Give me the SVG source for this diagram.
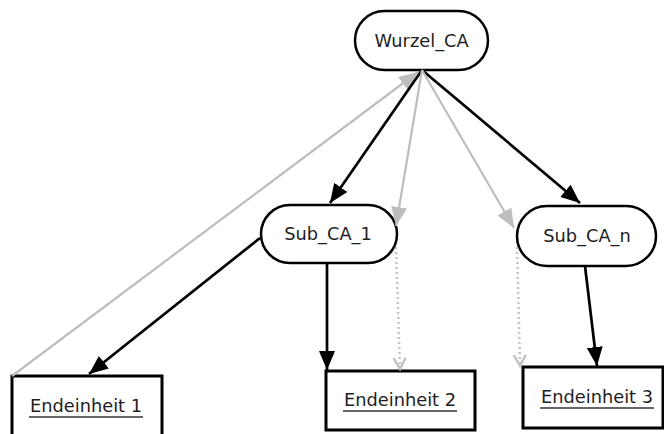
<svg xmlns="http://www.w3.org/2000/svg" width="664" height="434" viewBox="0 0 664 434">
  <style>
    .pill { fill: #ffffff; stroke: #000000; stroke-width: 2.5; }
    .box { fill: #ffffff; stroke: #000000; stroke-width: 3; }
    .lbl { font-family: "DejaVu Sans", "Liberation Sans", sans-serif; font-size: 17.8px; fill: #1e1e1e; text-anchor: middle; }
    .ul { stroke: #666666; stroke-width: 2; }
    .solid { fill: none; stroke: #000000; stroke-width: 2.7; }
    .grey { fill: none; stroke: #bdbdbd; stroke-width: 2.2; }
    .dots { fill: none; stroke: #c4c4c4; stroke-width: 2.5; stroke-dasharray: 2 3; }
  </style>
  <defs>
    <marker id="headBlack" markerUnits="userSpaceOnUse" markerWidth="22" markerHeight="18" refX="19" refY="8" orient="auto">
      <path d="M0,0 L19,8 L0,16 Z" fill="#000000"/>
    </marker>
    <marker id="headGrey" markerUnits="userSpaceOnUse" markerWidth="22" markerHeight="18" refX="19" refY="8" orient="auto">
      <path d="M0,0 L19,8 L0,16 Z" fill="#bdbdbd"/>
    </marker>
    <marker id="headOpen" markerUnits="userSpaceOnUse" markerWidth="16" markerHeight="16" refX="12" refY="7" orient="auto">
      <path d="M1,1 L12,7 L1,13" fill="none" stroke="#c4c4c4" stroke-width="2.5"/>
    </marker>
  </defs>

  <!-- nodes -->
  <g id="wurzel_ca">
    <rect class="pill" x="355" y="11" width="133" height="59" rx="29.5"/>
    <text class="lbl" x="421.5" y="47">Wurzel_CA</text>
  </g>
  <g id="sub_ca_1">
    <rect class="pill" x="261" y="205" width="136" height="58" rx="29"/>
    <text class="lbl" x="328" y="240">Sub_CA_1</text>
  </g>
  <g id="sub_ca_n">
    <rect class="pill" x="517" y="206" width="139" height="60" rx="30"/>
    <text class="lbl" x="587" y="242">Sub_CA_n</text>
  </g>
  <g id="endeinheit_1">
    <rect class="box" x="12" y="376" width="150" height="70"/>
    <text class="lbl" x="86" y="412">Endeinheit 1</text>
    <line class="ul" x1="29" y1="417" x2="143" y2="417"/>
  </g>
  <g id="endeinheit_2">
    <rect class="box" x="326" y="371" width="149" height="59"/>
    <text class="lbl" x="400" y="406">Endeinheit 2</text>
    <line class="ul" x1="343" y1="411" x2="457" y2="411"/>
  </g>
  <g id="endeinheit_3">
    <rect class="box" x="523" y="367" width="140" height="61"/>
    <text class="lbl" x="597" y="403">Endeinheit 3</text>
    <line class="ul" x1="540" y1="408" x2="654" y2="408"/>
  </g>

  <!-- connectors -->
  <g id="connectors">
    <path class="grey" d="M12,376 L418,72" marker-end="url(#headGrey)"/>
    <path class="solid" d="M422,70 L330,203" marker-end="url(#headBlack)"/>
    <path class="solid" d="M422,70 L580,203" marker-end="url(#headBlack)"/>
    <path class="grey" d="M422,70 L396,226" marker-end="url(#headGrey)"/>
    <path class="grey" d="M422,70 L514,228" marker-end="url(#headGrey)"/>
    <path class="solid" d="M260,238 L89,374" marker-end="url(#headBlack)"/>
    <path class="solid" d="M327,263 L327,370" marker-end="url(#headBlack)"/>
    <path class="dots" d="M396,247 L400,369" marker-end="url(#headOpen)"/>
    <path class="dots" d="M517,247 L520,366" marker-end="url(#headOpen)"/>
    <path class="solid" d="M585,266 L597,366" marker-end="url(#headBlack)"/>
  </g>
</svg>
